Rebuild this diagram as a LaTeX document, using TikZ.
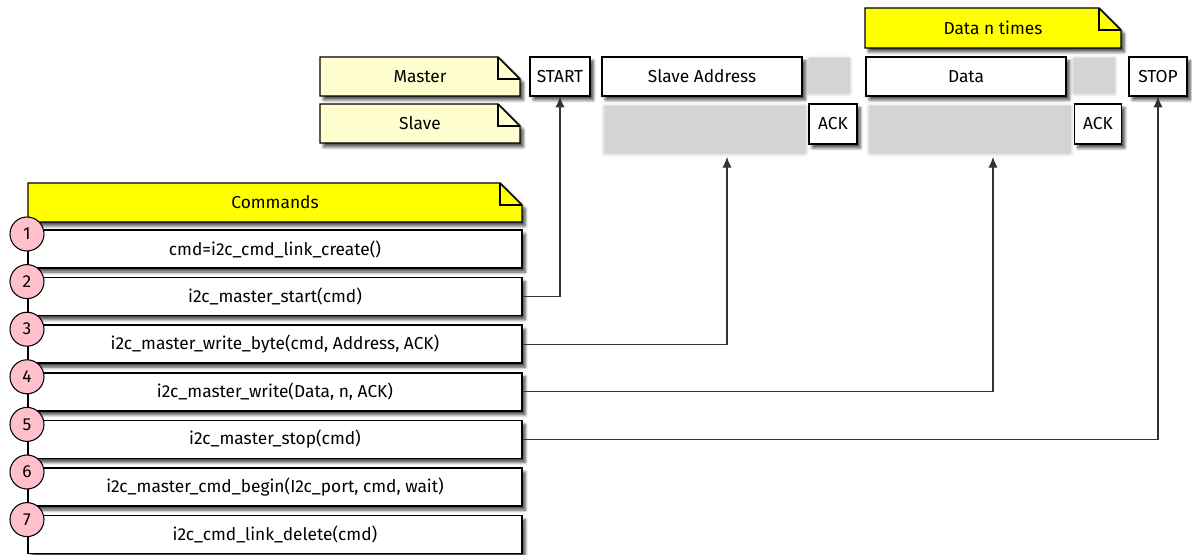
\documentclass[tikz,border=0pt]{standalone}
\usepackage{fontspec}
\setmainfont{Fira Sans}
\usetikzlibrary{shadows.blur, arrows.meta}

\definecolor{notecream}{HTML}{FEFECE}
\definecolor{noteyellow}{HTML}{FFFF00}
\definecolor{steppink}{HTML}{FFC0CB}

\def \px {0.75pt}
\def \foldsize {22}
\def \rowgap {47.6}

\tikzset{
  every node/.style={font=\fontsize{13}{15}\selectfont},
  soft/.style={blur shadow={shadow xshift=2.5pt, shadow yshift=-3pt, shadow opacity=70, shadow blur steps=6}},
  ghost/.style={fill=black!17, draw=none, blur shadow={shadow xshift=0pt, shadow yshift=0pt, shadow opacity=35, shadow blur radius=3pt}},
  msgbox/.style={draw, line width=1.1pt, fill=white, soft, inner sep=0pt, minimum height=39*\px},
  cmdrow/.style={draw, line width=1.1pt, fill=white, soft, inner sep=0pt, minimum width=494*\px, minimum height=38*\px},
  stepnum/.style={draw, circle, line width=0.8pt, fill=steppink, inner sep=0pt, minimum size=34*\px},
  arr/.style={-{Latex[length=8pt, width=7pt]}, line width=0.8pt, black!80}
}

% note with folded corner: name, x1, y1, x2, y2, fill, text
\newcommand\foldnote[7]{%
  \filldraw[fill=#6, line width=1.1pt, soft] (#2,#3) -- (#4-\foldsize,#3) -- (#4,#3+\foldsize) -- (#4,#5) -- (#2,#5) -- cycle;
  \draw[line width=1.1pt] (#4-\foldsize,#3) |- (#4,#3+\foldsize);
  \node (#1) at ({(#2+#4)/2},{(#3+#5)/2}) {#7};
}

\begin{document}
\begin{tikzpicture}[x=0.75pt, y=-0.75pt]
\useasboundingbox (0,0) rectangle (1192,555);

% sequence
\foldnote{master}{320}{57}{520}{96}{notecream}{Master}
\foldnote{slave}{320}{104}{520}{143}{notecream}{Slave}
\foldnote{ntimes}{865}{8}{1121}{48}{noteyellow}{Data n times}

\node[ghost, minimum width=200*\px, minimum height=46*\px] (addrgap) at (705,130) {};
\node[ghost, minimum width=200*\px, minimum height=46*\px] (datagap) at (970,130) {};
\node[ghost, minimum width=40*\px, minimum height=34*\px] (addrwait) at (829,76) {};
\node[ghost, minimum width=40*\px, minimum height=34*\px] (datawait) at (1094,76) {};

\node[msgbox, minimum width=60*\px] (start) at (560,76.5) {START};
\node[msgbox, minimum width=200*\px] (addr) at (702,76.5) {Slave Address};
\node[msgbox, minimum width=200*\px] (data) at (966,76.5) {Data};
\node[msgbox, minimum width=58*\px] (stop) at (1158,76.5) {STOP};
\node[msgbox, minimum width=48*\px, minimum height=40*\px] (addrack) at (833,124) {ACK};
\node[msgbox, minimum width=47*\px, minimum height=40*\px] (dataack) at (1098,124) {ACK};

% commands
\foldnote{commands}{28}{183}{522}{222}{noteyellow}{Commands}
\foreach \i/\txt in {1/{cmd=i2c\_cmd\_link\_create()},
                     2/{i2c\_master\_start(cmd)},
                     3/{i2c\_master\_write\_byte(cmd, Address, ACK)},
                     4/{i2c\_master\_write(Data, n, ACK)},
                     5/{i2c\_master\_stop(cmd)},
                     6/{i2c\_master\_cmd\_begin(I2c\_port, cmd, wait)},
                     7/{i2c\_cmd\_link\_delete(cmd)}} {
  \node[cmdrow] (row\i) at (275,{249+(\i-1)*\rowgap}) {\txt};
}
\foreach \i in {1,...,7} {
  \node[stepnum] (num\i) at (27,{234+(\i-1)*\rowgap}) {\i};
}

\coordinate (addrtip) at (727,157);
\coordinate (datatip) at (993,157);
\draw[arr] (row2.east) -| (start.south);
\draw[arr] (row3.east) -| (addrtip);
\draw[arr] (row4.east) -| (datatip);
\draw[arr] (row5.east) -| (stop.south);
\end{tikzpicture}
\end{document}
